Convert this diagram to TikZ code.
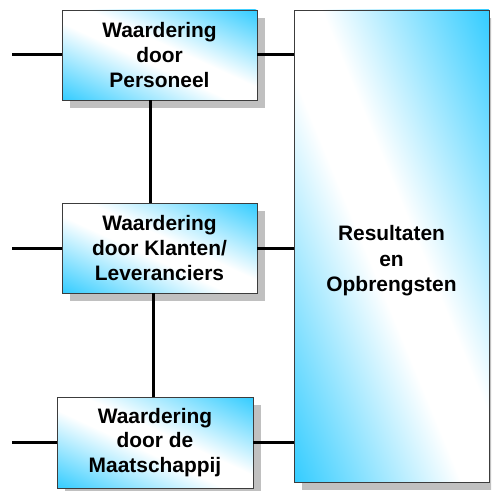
\documentclass[tikz,border=0pt]{standalone}
\usepackage{fontspec}
\setmainfont{Liberation Sans}
\usetikzlibrary{calc}
\definecolor{skyc}{RGB}{51,204,255}
\definecolor{shadowc}{RGB}{192,192,192}
\definecolor{edgec}{RGB}{60,60,60}
\pgfdeclareverticalshading{diagsh}{100bp}{color(0bp)=(skyc); color(25bp)=(skyc); color(46.5bp)=(white); color(53.5bp)=(white); color(75bp)=(skyc); color(100bp)=(skyc)}
\tikzset{
  boxframe/.style={draw=edgec, line width=0.9bp, inner sep=0pt, align=center,
    font=\bfseries\fontsize{21}{25}\selectfont},
  boxshadow/.style={fill=shadowc},
  boxshade/.style={shading=diagsh},
  link/.style={line width=3bp, black},
  lbl/.style={inner sep=0pt, align=center, font=\bfseries\fontsize{21}{25.5}\selectfont},
}
% #1 name, #2 cx, #3 cy, #4 width, #5 height, #6 text
\newcommand\diagbox[6]{%
  \fill[boxshadow] (#2-#4/2+8,#3-#5/2+8) rectangle (#2+#4/2+8,#3+#5/2+8);
  \begin{scope}
    \clip (#2-#4/2,#3-#5/2) rectangle (#2+#4/2,#3+#5/2);
    \begin{scope}[transform canvas={shift={(#2,#3)}, xscale=#4*1.00375/100, yscale=#5*1.00375/100, rotate=-45}]
      \shade[boxshade] (-70.72pt,-70.72pt) rectangle (70.72pt,70.72pt);
    \end{scope}
  \end{scope}
  \node[boxframe, minimum width=#4bp, minimum height=#5bp] (#1) at (#2,#3) {#6};
}
\begin{document}
\begin{tikzpicture}[x=1bp,y=-1bp]
\useasboundingbox (0,0) rectangle (491,491);
\clip (0,0) rectangle (491,491);
\diagbox{res}{391.5}{246}{195}{472}{}
\node[lbl] (restext) at (391.5,261) {Resultaten\\en\\Opbrengsten};
\diagbox{top}{159.5}{55}{195}{90}{Waardering\\door\\Personeel}
\diagbox{mid}{159.5}{248}{195}{90}{Waardering\\door Klanten/\\Leveranciers}
\diagbox{bot}{155}{442.5}{196}{91}{Waardering\\door de\\Maatschappij}
\coordinate (l1) at (12,55);
\coordinate (l2) at (12,248);
\coordinate (l3) at (12,442.5);
\coordinate (v1) at (150,0);
\coordinate (v2) at (153,0);
\draw[link] (l1) -- (top.west);
\draw[link] (l2) -- (mid.west);
\draw[link] (l3) -- (bot.west);
\draw[link] (top.east) -- (top.east -| res.west);
\draw[link] (mid.east) -- (mid.east -| res.west);
\draw[link] (bot.east) -- (bot.east -| res.west);
\draw[link] (top.south -| v1) -- (mid.north -| v1);
\draw[link] (mid.south -| v2) -- (bot.north -| v2);
\end{tikzpicture}
\end{document}
